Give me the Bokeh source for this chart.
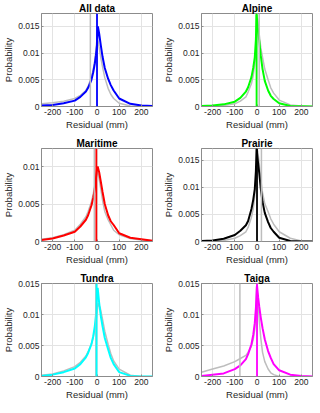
from bokeh.plotting import figure
from bokeh.layouts import gridplot
from bokeh.models import Range1d, FixedTicker, Span, CustomJSTickFormatter
from bokeh.embed import file_html
from bokeh.resources import INLINE

# ---------------- data ----------------
titles = ["All data", "Alpine", "Maritime", "Prairie", "Tundra", "Taiga"]
colors = ["#0000ff", "#00ff00", "#ff0000", "#000000", "#00ffff", "#ff00ff"]
y_max = [0.0174, 0.0174, 0.0124, 0.0172, 0.015, 0.015]
y_ticks = [[0, 0.005, 0.01, 0.015], [0, 0.005, 0.01, 0.015], [0, 0.005, 0.01],
           [0, 0.005, 0.01, 0.015], [0, 0.005, 0.01, 0.015], [0, 0.005, 0.01, 0.015]]
x_ticks = [-200, -100, 0, 100, 200]

# colored (region) curves
all_x = [-250, -200, -150, -100, -75, -50, -40, -25, -17, -10, -5, 0, 4, 10, 17, 25, 35, 50, 62, 75, 100, 150, 200, 250]
all_y = [0.0002, 0.0003, 0.0006, 0.0011, 0.0018, 0.0028, 0.0035, 0.005, 0.0064, 0.008, 0.0095, 0.0115, 0.015, 0.0136,
         0.0115, 0.0093, 0.0072, 0.0052, 0.004, 0.003, 0.0015, 0.0005, 0.0002, 0.0001]
alp_x = [-250, -200, -150, -100, -75, -50, -40, -25, -17, -10, -5, -2, 3, 10, 17, 25, 35, 50, 62, 75, 100, 150, 200, 250]
alp_y = [0.0001, 0.0002, 0.0004, 0.0009, 0.0016, 0.0028, 0.0036, 0.0055, 0.0072, 0.0092, 0.0125, 0.0172, 0.0148, 0.0123,
         0.0095, 0.007, 0.0048, 0.003, 0.002, 0.0014, 0.0006, 0.0001, 0.00005, 0.0]
mar_x = [-250, -200, -150, -100, -75, -50, -40, -25, -17, -10, -5, 0, 3, 10, 17, 25, 35, 50, 62, 75, 100, 150, 200, 250]
mar_y = [0.0002, 0.0004, 0.0008, 0.0013, 0.002, 0.0029, 0.0035, 0.0048, 0.0058, 0.007, 0.0083, 0.0097, 0.01, 0.0092,
         0.008, 0.0066, 0.005, 0.0035, 0.0027, 0.0022, 0.0011, 0.0005, 0.0003, 0.0001]
pra_x = [-250, -200, -150, -100, -75, -50, -40, -25, -17, -10, -5, -2, 3, 10, 17, 25, 35, 50, 62, 75, 100, 150, 200, 250]
pra_y = [0.0001, 0.0002, 0.0005, 0.0012, 0.002, 0.003, 0.0038, 0.006, 0.0077, 0.0097, 0.013, 0.0172, 0.0152, 0.0127,
         0.0098, 0.0073, 0.0053, 0.0036, 0.0025, 0.0018, 0.0007, 0.0001, 0.0, 0.0]
tun_x = [-250, -200, -150, -100, -75, -50, -40, -25, -17, -10, -5, 0, 3, 10, 17, 25, 35, 50, 62, 75, 100, 150, 200, 250]
tun_y = [0.0001, 0.0003, 0.0007, 0.0013, 0.002, 0.0031, 0.0038, 0.0052, 0.0065, 0.0081, 0.0098, 0.0135, 0.0143, 0.0118,
         0.0098, 0.0081, 0.0062, 0.0044, 0.003, 0.002, 0.0007, 0.0001, 0.0, 0.0]
tai_x = [-250, -200, -150, -100, -75, -50, -40, -25, -17, -10, -5, 0, 5, 10, 17, 25, 35, 50, 62, 75, 100, 150, 200, 250]
tai_y = [0.0001, 0.0003, 0.0005, 0.0012, 0.0018, 0.0028, 0.0036, 0.0052, 0.0067, 0.0086, 0.011, 0.0147, 0.0128, 0.0113,
         0.0095, 0.0078, 0.006, 0.0041, 0.003, 0.002, 0.001, 0.0003, 0.0001, 0.0]

# gray (reference) curves
all_gx = [-250, -200, -150, -100, -75, -50, -40, -25, -17, -10, -5, 0, 5, 10, 17, 25, 35, 50, 62, 75, 100, 150, 200, 250]
all_gy = [0.0005, 0.0007, 0.001, 0.0015, 0.0021, 0.003, 0.0038, 0.0055, 0.0069, 0.0086, 0.0104, 0.0127, 0.0121, 0.011,
          0.0092, 0.0074, 0.0054, 0.0034, 0.0023, 0.0015, 0.0006, 0.0001, 0.00005, 0.0]
alp_gx = [-250, -200, -150, -100, -75, -50, -40, -25, -17, -10, -3, 3, 10, 17, 25, 35, 50, 62, 75, 100, 150, 200, 250]
alp_gy = [0.0, 0.0001, 0.0002, 0.0005, 0.001, 0.0018, 0.0027, 0.0043, 0.0058, 0.008, 0.0115, 0.0165, 0.0135, 0.011,
          0.0092, 0.007, 0.005, 0.0035, 0.0025, 0.0012, 0.0003, 0.0001, 0.0]
mar_gx = [-250, -200, -150, -100, -75, -50, -40, -25, -17, -10, -5, 0, 5, 10, 17, 25, 35, 50, 75, 100, 150, 200, 250]
mar_gy = [0.0003, 0.0005, 0.0009, 0.0015, 0.0023, 0.0033, 0.004, 0.0053, 0.0063, 0.0075, 0.0085, 0.0094, 0.009, 0.0083,
          0.007, 0.0055, 0.004, 0.0029, 0.0015, 0.0009, 0.0004, 0.0002, 0.0001]
pra_gx = [-250, -200, -150, -100, -75, -50, -40, -25, -17, -10, -3, 3, 10, 17, 25, 35, 50, 62, 75, 100, 150, 200, 250]
pra_gy = [0.0, 0.0001, 0.0002, 0.0006, 0.0011, 0.0018, 0.0026, 0.0045, 0.006, 0.0085, 0.0125, 0.0168, 0.0145, 0.0115,
          0.009, 0.007, 0.0055, 0.0042, 0.0032, 0.0018, 0.0006, 0.0001, 0.0]
tun_gx = [-250, -200, -150, -100, -75, -50, -40, -25, -17, -10, -5, 0, 5, 15, 25, 35, 50, 62, 75, 100, 150, 200, 250]
tun_gy = [0.0002, 0.0004, 0.0009, 0.0016, 0.0023, 0.0033, 0.004, 0.0053, 0.0063, 0.0076, 0.0088, 0.0102, 0.0118, 0.011,
          0.0092, 0.0073, 0.0052, 0.0037, 0.0025, 0.0012, 0.0002, 0.0, 0.0]
tai_gx = [-250, -200, -150, -100, -75, -50, -40, -25, -17, -10, -5, -2, 3, 10, 17, 25, 35, 50, 62, 75, 100, 150, 200, 250]
tai_gy = [0.0007, 0.0012, 0.0017, 0.0024, 0.0029, 0.0034, 0.0039, 0.0049, 0.006, 0.0076, 0.0105, 0.0145, 0.013, 0.0092,
          0.0062, 0.0039, 0.0024, 0.0012, 0.0006, 0.0003, 0.0, 0.0, 0.0, 0.0]

# vertical median lines: gray (reference) and colored (region)
gray_median = [-30, 10, -12, 20, -5, -77]
col_median = [0, -2, -3, 0, -2, 0]

curves = [(all_x, all_y, all_gx, all_gy), (alp_x, alp_y, alp_gx, alp_gy),
          (mar_x, mar_y, mar_gx, mar_gy), (pra_x, pra_y, pra_gx, pra_gy),
          (tun_x, tun_y, tun_gx, tun_gy), (tai_x, tai_y, tai_gx, tai_gy)]

GRAY = "#bdbdbd"
FONT = "Liberation Sans"

figs = []
for i in range(6):
    col = i % 2
    cx, cy, gx, gy = curves[i]
    p = figure(frame_width=111, frame_height=93, output_backend="svg", toolbar_location=None,
               x_range=Range1d(-250, 250), y_range=Range1d(0, y_max[i]),
               min_border_left=36 if col == 0 else 37, min_border_right=8 if col == 0 else 1,
               min_border_top=13, min_border_bottom=29)
    p.title.text = titles[i]
    p.title.align = "center"
    p.title.text_font = FONT
    p.title.text_font_size = "10px"
    p.title.text_font_style = "bold"
    p.title.text_color = "#000000"
    p.title.standoff = 0
    p.title.offset = 0

    p.line(gx, gy, color=GRAY, line_width=1.5)
    p.line(cx, cy, color=colors[i], line_width=2)
    p.add_layout(Span(location=gray_median[i], dimension="height", line_color=GRAY, line_width=1.5))
    p.add_layout(Span(location=col_median[i], dimension="height", line_color=colors[i], line_width=1.8))

    p.xaxis.ticker = FixedTicker(ticks=x_ticks)
    p.yaxis.ticker = FixedTicker(ticks=y_ticks[i])
    p.yaxis.formatter = CustomJSTickFormatter(code="return tick.toString();")
    p.xaxis.formatter = CustomJSTickFormatter(code="return tick.toString();")
    p.xaxis.axis_label = "Residual (mm)"
    p.yaxis.axis_label = "Probability"
    for ax in (p.xaxis, p.yaxis):
        ax.axis_label_text_font = FONT
        ax.axis_label_text_font_size = "9.5px"
        ax.axis_label_text_font_style = "normal"
        ax.axis_label_text_color = "#262626"
        ax.axis_label_standoff = 1
        ax.major_label_text_font = FONT
        ax.major_label_text_font_size = "8.5px"
        ax.major_label_text_color = "#262626"
        ax.major_label_standoff = 2
        ax.major_tick_in = 2
        ax.major_tick_out = 0
        ax.minor_tick_line_color = None
        ax.axis_line_color = "#8c8c8c"
        ax.major_tick_line_color = "#8c8c8c"
    p.xgrid.grid_line_color = "#e3e3e3"
    p.ygrid.grid_line_color = "#e3e3e3"
    p.outline_line_color = "#8c8c8c"
    p.outline_line_alpha = 1
    p.background_fill_color = "white"
    p.border_fill_color = "white"
    figs.append(p)

grid = gridplot([[figs[0], figs[1]], [figs[2], figs[3]], [figs[4], figs[5]]],
                toolbar_location=None)

open("out.html", "w").write(file_html(grid, INLINE))
